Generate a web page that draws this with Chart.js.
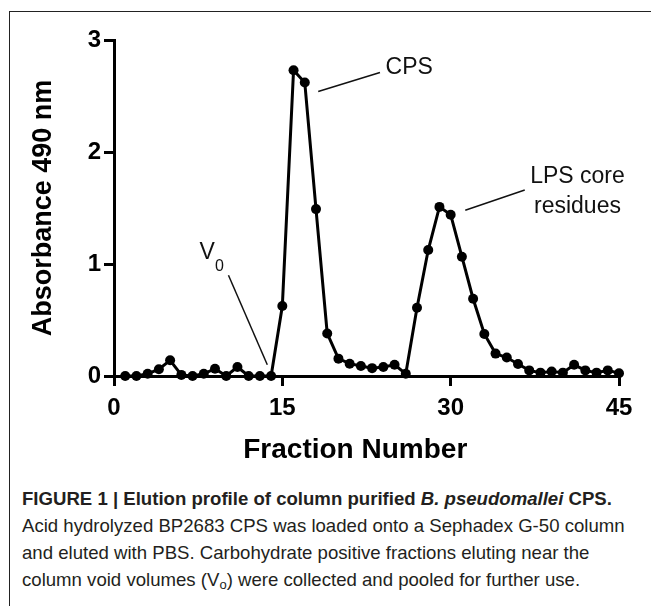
<!DOCTYPE html>
<html>
<head>
<meta charset="utf-8">
<script src="https://cdn.jsdelivr.net/npm/chart.js@4/dist/chart.umd.min.js"></script>
<style>
  html, body { margin: 0; padding: 0; background: #fff; }
  #wrap { position: relative; width: 651px; height: 606px; overflow: hidden; background: #fff; }
  #frameTop { position: absolute; left: 9px; top: 11px; width: 642px; height: 1px; background: #222; }
  #frameLeft { position: absolute; left: 9px; top: 11px; width: 1px; height: 595px; background: #222; }
  #chartBox { position: absolute; left: 0; top: 0; width: 651px; height: 470px; }
  #caption { position: absolute; left: 22px; top: 485px; width: 625px;
    font-family: "Liberation Sans", Arial, sans-serif; font-size: 18.6px; line-height: 27px; color: #231f20; white-space: nowrap; }
  #caption .head { font-weight: bold; }
  #caption sub { font-size: 13px; line-height: 0; vertical-align: -3px; }
</style>
</head>
<body>
<div id="wrap">
  <div id="chartBox"><canvas id="c" width="651" height="470"></canvas></div>
  <div id="frameTop"></div>
  <div id="frameLeft"></div>
  <div id="caption">
    <div class="head">FIGURE 1 | Elution profile of column purified <i>B. pseudomallei</i> CPS.</div>
    <div>Acid hydrolyzed BP2683 CPS was loaded onto a Sephadex G-50 column</div>
    <div>and eluted with PBS. Carbohydrate positive fractions eluting near the</div>
    <div>column void volumes (V<sub>o</sub>) were collected and pooled for further use.</div>
  </div>
</div>
<script>
// ---- data ----
const fractions = [1,2,3,4,5,6,7,8,9,10,11,12,13,14,15,16,17,18,19,20,21,22,23,24,25,26,27,28,29,30,31,32,33,34,35,36,37,38,39,40,41,42,43,44,45];
const absorbance = [0.00,0.00,0.02,0.06,0.14,0.01,0.00,0.02,0.065,0.00,0.08,0.00,0.00,0.00,0.625,2.73,2.62,1.49,0.38,0.155,0.11,0.09,0.07,0.08,0.10,0.02,0.61,1.125,1.51,1.44,1.065,0.69,0.375,0.20,0.165,0.107,0.05,0.03,0.04,0.03,0.10,0.05,0.03,0.05,0.025];
const xTicks = [0, 15, 30, 45];
const yTicks = [0, 1, 2, 3];
const xTitle = "Fraction Number";
const yTitle = "Absorbance 490 nm";
const annotationLabels = ["CPS", ["LPS core", "residues"], "V", "0"];

const points = fractions.map((f, i) => ({ x: f, y: absorbance[i] }));

const FONT = '"Liberation Sans", Arial, sans-serif';

const annotate = {
  id: 'annotate',
  afterDatasetsDraw(chart) {
    const ctx = chart.ctx;
    const xs = chart.scales.x, ys = chart.scales.y;
    const px = v => xs.getPixelForValue(v);
    const py = v => ys.getPixelForValue(v);
    ctx.save();
    ctx.strokeStyle = '#111';
    ctx.fillStyle = '#111';
    ctx.lineWidth = 1.5;
    const line = (x1, y1, x2, y2) => { ctx.beginPath(); ctx.moveTo(px(x1), py(y1)); ctx.lineTo(px(x2), py(y2)); ctx.stroke(); };
    line(18.2, 2.54, 23.7, 2.71);
    line(31.3, 1.48, 36.6, 1.66);
    line(10.2, 0.90, 13.66, 0.10);
    ctx.font = '23px ' + FONT;
    ctx.textBaseline = 'middle';
    ctx.textAlign = 'left';
    ctx.fillText(annotationLabels[0], px(24.2), py(2.75));
    ctx.textAlign = 'center';
    ctx.fillText(annotationLabels[1][0], px(41.3), py(1.78));
    ctx.fillText(annotationLabels[1][1], px(41.3), py(1.51));
    ctx.textAlign = 'left';
    ctx.fillText(annotationLabels[2], px(7.62), py(1.10));
    ctx.font = '16px ' + FONT;
    ctx.fillText(annotationLabels[3], px(8.99), py(0.98));
    // x-axis title, centred slightly left of the axis middle as in the reference
    ctx.fillStyle = '#000';
    ctx.font = 'bold 28px ' + FONT;
    ctx.textAlign = 'center';
    ctx.fillText(xTitle, px(21.5), xs.bottom - 20);
    ctx.restore();
  }
};

new Chart(document.getElementById('c'), {
  type: 'scatter',
  data: {
    datasets: [{
      data: points,
      showLine: true,
      borderColor: '#000',
      backgroundColor: '#000',
      borderWidth: 3,
      pointRadius: 5,
      pointHoverRadius: 5,
      pointBorderWidth: 0,
      tension: 0,
      clip: false
    }]
  },
  options: {
    responsive: false,
    animation: false,
    devicePixelRatio: 1,
    layout: { padding: { left: 0, right: 32, top: 40, bottom: 0 } },
    plugins: { legend: { display: false }, tooltip: { enabled: false } },
    scales: {
      x: {
        type: 'linear', min: 0, max: 45,
        afterBuildTicks(scale) { scale.ticks = xTicks.map(v => ({ value: v })); },
        afterFit(scale) { scale.height = 94; },
        grid: { display: true, drawOnChartArea: false, drawTicks: true, tickLength: 10, color: '#000', lineWidth: 3 },
        border: { display: true, color: '#000', width: 3 },
        ticks: { color: '#000', font: { family: FONT, size: 24, weight: 'bold' }, padding: 8, maxRotation: 0 },
        title: { display: false }
      },
      y: {
        type: 'linear', min: 0, max: 3,
        afterBuildTicks(scale) { scale.ticks = yTicks.map(v => ({ value: v })); },
        afterFit(scale) { scale.width = 114; },
        grid: { display: true, drawOnChartArea: false, drawTicks: true, tickLength: 10, color: '#000', lineWidth: 3 },
        border: { display: true, color: '#000', width: 3 },
        ticks: { color: '#000', font: { family: FONT, size: 24, weight: 'bold' }, padding: 3 },
        title: { display: true, text: yTitle, color: '#000', font: { family: FONT, size: 27, weight: 'bold', lineHeight: 1.2 }, padding: { top: 27, bottom: 0 } }
      }
    }
  },
  plugins: [annotate]
});
</script>
</body>
</html>
